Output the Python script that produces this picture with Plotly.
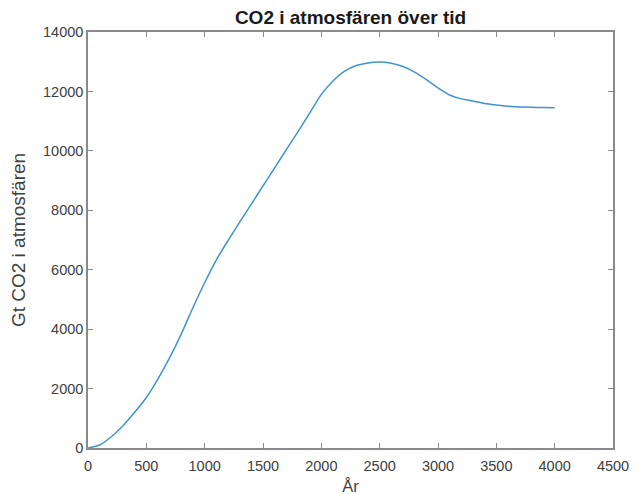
import plotly.graph_objects as go

years = [0, 100, 200, 300, 400, 500, 600, 700, 800, 900, 1000, 1100, 1200, 1300,
         1400, 1500, 1600, 1700, 1800, 1900, 2000, 2100, 2200, 2300, 2400, 2500,
         2600, 2700, 2800, 2900, 3000, 3100, 3200, 3300, 3400, 3500, 3600, 3700,
         3800, 3900, 4000]
co2 = [0, 100, 380, 750, 1200, 1700, 2330, 3040, 3840, 4730, 5560, 6330, 6980,
       7600, 8210, 8820, 9430, 10040, 10650, 11270, 11900, 12350, 12680, 12870,
       12960, 12990, 12950, 12840, 12650, 12400, 12120, 11880, 11750, 11680,
       11590, 11540, 11500, 11480, 11465, 11455, 11450]

x_ticks = [0, 500, 1000, 1500, 2000, 2500, 3000, 3500, 4000, 4500]
y_ticks = [0, 2000, 4000, 6000, 8000, 10000, 12000, 14000]

FONT = "Liberation Sans, Arial, Helvetica, sans-serif"

# the page body has an 8px margin, so the figure is sized/offset to compensate
W, H = 630, 487

fig = go.Figure()
fig.add_trace(go.Scatter(x=years, y=co2, mode="lines",
                         line=dict(color="#3f93d2", width=1.5, shape="spline", smoothing=0.6)))

axis_common = dict(showline=True, linecolor="#8a8a8a", linewidth=1.5, mirror="ticks",
                   ticks="inside", ticklen=5, tickcolor="#8a8a8a", tickwidth=1,
                   showgrid=False, zeroline=False, automargin=False,
                   tickfont=dict(family=FONT, size=14.5, color="#404040"))

fig.update_layout(
    width=W, height=H,
    margin=dict(l=80, r=25, t=24, b=47),
    paper_bgcolor="white", plot_bgcolor="white",
    showlegend=False,
    title=dict(text="<b>CO2 i atmosfären över tid</b>", x=0.5, xref="paper",
               y=1 - 9 / H, yref="container", yanchor="middle", xanchor="center",
               font=dict(family=FONT, size=19, color="#1a1a1a")),
    xaxis=dict(range=[0, 4500], tickvals=x_ticks, ticktext=[str(v) for v in x_ticks],
               ticklabelstandoff=4, **axis_common,
               title=dict(text="År", standoff=12,
                          font=dict(family=FONT, size=16.5, color="#404040"))),
    yaxis=dict(range=[0, 14000], tickvals=y_ticks, ticktext=[str(v) for v in y_ticks],
               **axis_common,
               title=dict(text="Gt CO2 i atmosfären", standoff=13,
                          font=dict(family=FONT, size=19, color="#404040"))),
)

fig.write_html("out.html")
